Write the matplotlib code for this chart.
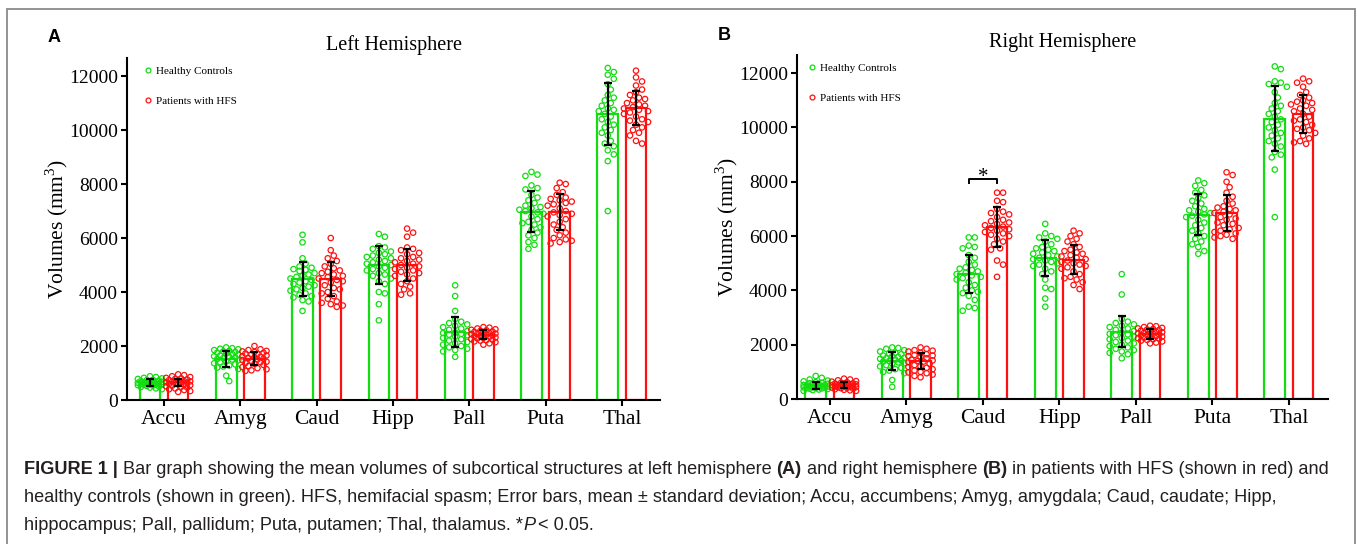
# subcortical volumes, HFS patients vs healthy controls
import numpy as np
import matplotlib
matplotlib.use('Agg')
import matplotlib.pyplot as plt
from matplotlib.lines import Line2D
from matplotlib.patches import Rectangle

plt.rcParams['font.family'] = ['Liberation Serif', 'DejaVu Serif']
plt.rcParams['mathtext.fontset'] = 'custom'
plt.rcParams['mathtext.rm'] = 'Liberation Serif'

regions = ['Accu', 'Amyg', 'Caud', 'Hipp', 'Pall', 'Puta', 'Thal']

# bar heights (mean) and error bars (SD), mm^3
left_hc_mean = [640, 1510, 4490, 5000, 2520, 6980, 10590]
left_hc_sd = [120, 290, 620, 700, 550, 760, 1140]
left_hfs_mean = [660, 1530, 4480, 5010, 2420, 6960, 10830]
left_hfs_sd = [130, 230, 620, 590, 170, 660, 630]

right_hc_mean = [500, 1390, 4610, 5180, 2480, 6790, 10320]
right_hc_sd = [130, 330, 710, 660, 570, 760, 1190]
right_hfs_mean = [510, 1400, 6330, 5130, 2400, 6840, 10500]
right_hfs_sd = [110, 300, 740, 540, 180, 660, 690]

# individual subjects
left_hc_pts = [
    [880, 850, 820, 800, 780, 750, 740, 720, 700, 690, 680, 670, 650, 640, 630, 620, 610, 600, 590, 580, 570, 560, 550, 530, 520, 500, 480, 460, 430, 400],
    [1950, 1920, 1900, 1880, 1850, 1820, 1800, 1780, 1750, 1720, 1700, 1680, 1650, 1620, 1600, 1580, 1550, 1520, 1500, 1470, 1440, 1400, 1360, 1320, 1280, 1240, 1200, 1150, 900, 700],
    [6120, 5840, 5250, 5050, 4950, 4900, 4850, 4820, 4780, 4700, 4650, 4600, 4560, 4500, 4450, 4400, 4350, 4300, 4250, 4200, 4150, 4100, 4050, 3950, 3900, 3850, 3800, 3700, 3650, 3300],
    [6150, 6050, 5700, 5650, 5600, 5500, 5450, 5400, 5350, 5300, 5250, 5200, 5150, 5100, 5050, 5000, 4950, 4900, 4850, 4800, 4700, 4650, 4600, 4500, 4400, 4300, 4000, 3950, 3550, 2950],
    [4250, 3850, 3300, 3000, 2900, 2850, 2800, 2750, 2700, 2650, 2600, 2550, 2500, 2480, 2450, 2420, 2400, 2350, 2300, 2250, 2200, 2150, 2100, 2050, 2000, 1950, 1900, 1850, 1800, 1600],
    [8450, 8350, 8300, 7950, 7850, 7800, 7600, 7500, 7400, 7300, 7200, 7150, 7100, 7050, 7000, 6950, 6900, 6800, 6700, 6600, 6550, 6500, 6400, 6300, 6200, 6100, 6000, 5850, 5750, 5600],
    [12300, 12150, 12050, 11900, 11700, 11500, 11300, 11200, 11100, 11000, 10900, 10800, 10750, 10700, 10600, 10500, 10400, 10300, 10200, 10100, 10000, 9900, 9800, 9600, 9500, 9400, 9250, 9100, 8850, 7000],
]
left_hfs_pts = [
    [950, 920, 880, 850, 820, 800, 780, 760, 740, 720, 700, 690, 680, 660, 650, 640, 620, 600, 590, 570, 550, 530, 510, 490, 460, 430, 400, 370, 330, 300],
    [2000, 1880, 1850, 1820, 1800, 1780, 1750, 1720, 1700, 1680, 1650, 1620, 1600, 1580, 1550, 1530, 1500, 1480, 1450, 1420, 1400, 1370, 1340, 1300, 1260, 1220, 1180, 1140, 1100, 1080],
    [6000, 5550, 5350, 5250, 5150, 5050, 4950, 4880, 4800, 4750, 4700, 4650, 4600, 4550, 4500, 4450, 4400, 4350, 4250, 4150, 4100, 4000, 3950, 3850, 3750, 3650, 3600, 3550, 3500, 3450],
    [6350, 6200, 6050, 5650, 5600, 5550, 5450, 5400, 5300, 5250, 5200, 5150, 5100, 5050, 5000, 4950, 4900, 4850, 4800, 4750, 4700, 4650, 4600, 4500, 4400, 4300, 4200, 4100, 3950, 3900],
    [2700, 2680, 2650, 2620, 2600, 2580, 2560, 2540, 2520, 2500, 2480, 2460, 2450, 2440, 2420, 2400, 2380, 2360, 2340, 2320, 2300, 2280, 2260, 2240, 2220, 2200, 2170, 2140, 2100, 2050],
    [8050, 8000, 7850, 7700, 7600, 7500, 7450, 7400, 7350, 7300, 7250, 7200, 7100, 7000, 6950, 6900, 6850, 6800, 6700, 6600, 6500, 6400, 6300, 6200, 6100, 6000, 5950, 5900, 5850, 5800],
    [12200, 11950, 11800, 11650, 11500, 11400, 11300, 11200, 11150, 11100, 11000, 10950, 10900, 10850, 10800, 10750, 10700, 10650, 10600, 10500, 10400, 10350, 10300, 10200, 10100, 10000, 9900, 9800, 9600, 9500],
]
right_hc_pts = [
    [850, 780, 720, 680, 650, 620, 600, 580, 560, 550, 540, 520, 510, 500, 490, 480, 470, 460, 450, 440, 430, 420, 410, 400, 390, 380, 370, 350, 330, 300],
    [1900, 1880, 1850, 1800, 1750, 1700, 1680, 1650, 1600, 1580, 1550, 1520, 1500, 1480, 1450, 1420, 1400, 1380, 1350, 1320, 1300, 1250, 1200, 1150, 1100, 1050, 1000, 950, 700, 450],
    [5950, 5950, 5650, 5600, 5550, 5300, 5200, 5050, 4950, 4850, 4800, 4750, 4700, 4650, 4600, 4550, 4500, 4450, 4400, 4300, 4200, 4100, 4000, 3950, 3900, 3800, 3650, 3400, 3350, 3250],
    [6450, 6100, 6000, 5950, 5900, 5800, 5700, 5600, 5550, 5500, 5450, 5400, 5350, 5300, 5250, 5200, 5150, 5100, 5050, 5000, 4950, 4900, 4800, 4700, 4600, 4400, 4100, 4050, 3700, 3400],
    [4600, 3850, 2950, 2850, 2800, 2750, 2700, 2650, 2600, 2550, 2500, 2450, 2400, 2380, 2350, 2300, 2250, 2200, 2150, 2100, 2050, 2000, 1950, 1900, 1850, 1800, 1750, 1700, 1650, 1500],
    [8050, 7950, 7850, 7700, 7600, 7500, 7400, 7300, 7200, 7100, 7000, 6950, 6900, 6850, 6800, 6750, 6700, 6600, 6500, 6400, 6300, 6200, 6100, 6000, 5900, 5800, 5700, 5600, 5450, 5350],
    [12250, 12150, 11700, 11650, 11600, 11500, 11300, 11100, 10900, 10800, 10700, 10600, 10500, 10400, 10300, 10200, 10100, 10000, 9900, 9800, 9700, 9600, 9500, 9400, 9300, 9100, 9000, 8900, 8450, 6700],
]
right_hfs_pts = [
    [750, 720, 690, 660, 640, 620, 600, 580, 570, 560, 550, 540, 520, 510, 500, 490, 480, 470, 460, 450, 440, 430, 420, 410, 400, 380, 360, 340, 320, 300],
    [1900, 1850, 1800, 1780, 1750, 1700, 1650, 1620, 1600, 1580, 1550, 1500, 1450, 1420, 1400, 1380, 1350, 1300, 1250, 1200, 1180, 1150, 1100, 1050, 1000, 980, 950, 900, 850, 800],
    [7600, 7600, 7300, 7250, 7000, 6900, 6850, 6800, 6700, 6600, 6550, 6500, 6450, 6400, 6350, 6300, 6250, 6200, 6150, 6100, 6050, 6000, 5900, 5800, 5700, 5550, 5500, 5100, 4950, 4500],
    [6200, 6100, 6000, 5900, 5800, 5700, 5600, 5500, 5450, 5400, 5350, 5300, 5250, 5200, 5150, 5100, 5050, 5000, 4950, 4900, 4850, 4800, 4700, 4600, 4500, 4450, 4400, 4300, 4200, 4050],
    [2700, 2680, 2650, 2620, 2600, 2580, 2560, 2540, 2520, 2500, 2480, 2460, 2440, 2420, 2400, 2380, 2360, 2340, 2320, 2300, 2280, 2260, 2240, 2220, 2200, 2180, 2150, 2120, 2080, 2050],
    [8350, 8250, 8000, 7800, 7600, 7450, 7300, 7200, 7100, 7050, 7000, 6950, 6900, 6850, 6800, 6700, 6650, 6600, 6500, 6450, 6400, 6300, 6250, 6200, 6150, 6100, 6050, 6000, 5950, 5900],
    [11800, 11700, 11650, 11500, 11300, 11200, 11100, 11000, 10950, 10900, 10850, 10800, 10700, 10650, 10600, 10500, 10400, 10300, 10250, 10200, 10100, 10000, 9950, 9900, 9800, 9700, 9600, 9500, 9450, 9400],
]

# significance bracket on right caudate
sig_idx = 2
sig_y = 8110
sig_leg = 170

GREEN = '#11dd11'
RED = '#ff1010'
OFF = 0.185
BW = 0.27


def swarm(vals, ypx=0.0272, xpx=76.0, d=5.5, half=12.0):
    # crude beeswarm in pixel space, returns x offsets in data units
    vals = np.asarray(vals, float)
    order = np.argsort(vals)[::-1]
    placed = []
    off = np.zeros(len(vals))
    for i in order:
        y = vals[i] * ypx
        best, bestd = 0.0, -1.0
        for k in range(30):
            c = ((k + 1) // 2) * 3.0 * (1 if k % 2 else -1)
            if abs(c) > half:
                continue
            md = min([np.hypot(c - px, y - py) for px, py in placed], default=99)
            if md >= d:
                best, bestd = c, md
                break
            if md > bestd:
                best, bestd = c, md
        placed.append((best, y))
        off[i] = best / xpx
    return off


def panel(ax, title, hc_m, hc_s, hfs_m, hfs_s, hc_pts, hfs_pts, xlim, leg_anchor):
    x = np.arange(len(regions))
    for m, s, pts, dx, col in [(hc_m, hc_s, hc_pts, -OFF, GREEN),
                               (hfs_m, hfs_s, hfs_pts, OFF, RED)]:
        ax.bar(x + dx, m, width=BW, color='white', edgecolor=col, linewidth=1.6, zorder=1)
        for i, p in enumerate(pts):
            ax.scatter(i + dx + swarm(p), p, s=15, facecolors='none', edgecolors=col,
                       linewidths=0.9, zorder=2)
        ax.errorbar(x + dx, m, yerr=s, fmt='none', ecolor='black', elinewidth=1.6,
                    capsize=3, capthick=1.6, zorder=3)

    ax.set_xlim(*xlim)
    ax.set_ylim(0, 12670)
    ax.set_yticks([0, 2000, 4000, 6000, 8000, 10000, 12000])
    ax.set_xticks(x)
    ax.set_xticklabels(regions)
    for sp in ['top', 'right']:
        ax.spines[sp].set_visible(False)
    for sp in ['left', 'bottom']:
        ax.spines[sp].set_linewidth(1.5)
    ax.tick_params(width=1.5, length=4.5, pad=2)
    ax.tick_params(axis='y', labelsize=14)
    ax.tick_params(axis='x', labelsize=15.5, pad=3)
    ax.set_title(title, fontsize=14.5, pad=6)
    ax.set_ylabel('Volumes (mm$^{3}$)', fontsize=15.5)
    ax.yaxis.set_label_coords(-0.107, 0.5)

    h = [Line2D([], [], ls='none', marker='o', ms=3.5, mfc='none', mec=GREEN, mew=0.9),
         Line2D([], [], ls='none', marker='o', ms=3.5, mfc='none', mec=RED, mew=0.9)]
    ax.legend(h, ['Healthy Controls', 'Patients with HFS'], loc='upper left',
              bbox_to_anchor=leg_anchor, frameon=False, fontsize=8,
              handlelength=0.8, handletextpad=0.3, labelspacing=1.8,
              borderpad=0, borderaxespad=0)


fig = plt.figure(figsize=(13.57, 5.44), dpi=100)
axA = fig.add_axes([0.0936, 0.2647, 0.3928, 0.6287])
axB = fig.add_axes([0.5873, 0.2665, 0.3913, 0.6324])

panel(axA, 'Left Hemisphere', left_hc_mean, left_hc_sd, left_hfs_mean, left_hfs_sd,
      left_hc_pts, left_hfs_pts, (-0.485, 6.5), (0.031, 0.976))
panel(axB, 'Right Hemisphere', right_hc_mean, right_hc_sd, right_hfs_mean, right_hfs_sd,
      right_hc_pts, right_hfs_pts, (-0.43, 6.51), (0.02, 0.975))

# bracket + star
bx = [sig_idx - OFF, sig_idx - OFF, sig_idx + OFF, sig_idx + OFF]
by = [sig_y - sig_leg, sig_y, sig_y, sig_y - sig_leg]
axB.plot(bx, by, color='black', lw=1.4, zorder=4)
axB.text(sig_idx, sig_y - 290, '*', ha='center', va='bottom', fontsize=15)

# panel letters
fig.text(48 / 1357, 1 - 37 / 544, 'A', fontsize=13, weight='bold', family='Liberation Sans', va='center')
fig.text(718 / 1357, 1 - 36 / 544, 'B', fontsize=13, weight='bold', family='Liberation Sans', va='center')

# outer frame (open at the bottom, page is cropped there)
fig.add_artist(Rectangle((7 / 1357, -0.2), 1348 / 1357, 1.2 - 9 / 544, transform=fig.transFigure,
                         fill=False, edgecolor='#8a8a8a', lw=1.3))

# caption
renderer = fig.canvas.get_renderer()


def caption_line(y, parts, size=13.1):
    x = 24 / 1357
    for s, w, st in parts:
        t = fig.text(x, y, s, fontsize=size, family='Liberation Sans', weight=w, style=st,
                     color='#231f20', va='center')
        prop = t.get_fontproperties()
        w1 = renderer.get_text_width_height_descent('.' + s + '.', prop, ismath=False)[0]
        w0 = renderer.get_text_width_height_descent('..', prop, ismath=False)[0]
        x += (w1 - w0) / fig.bbox.width


caption_line(1 - 470 / 544, [
    ('FIGURE 1 | ', 'bold', 'normal'),
    ('Bar graph showing the mean volumes of subcortical structures at left hemisphere ', 'normal', 'normal'),
    ('(A)', 'bold', 'normal'),
    (' and right hemisphere ', 'normal', 'normal'),
    ('(B)', 'bold', 'normal'),
    (' in patients with HFS (shown in red) and', 'normal', 'normal'),
])
caption_line(1 - 497.5 / 544, [
    ('healthy controls (shown in green). HFS, hemifacial spasm; Error bars, mean \u00b1 standard deviation; '
     'Accu, accumbens; Amyg, amygdala; Caud, caudate; Hipp,', 'normal', 'normal'),
])
caption_line(1 - 525 / 544, [
    ('hippocampus; Pall, pallidum; Puta, putamen; Thal, thalamus. *', 'normal', 'normal'),
    ('P', 'normal', 'italic'),
    (' < 0.05.', 'normal', 'normal'),
])

fig.savefig('out.png', dpi=100)
